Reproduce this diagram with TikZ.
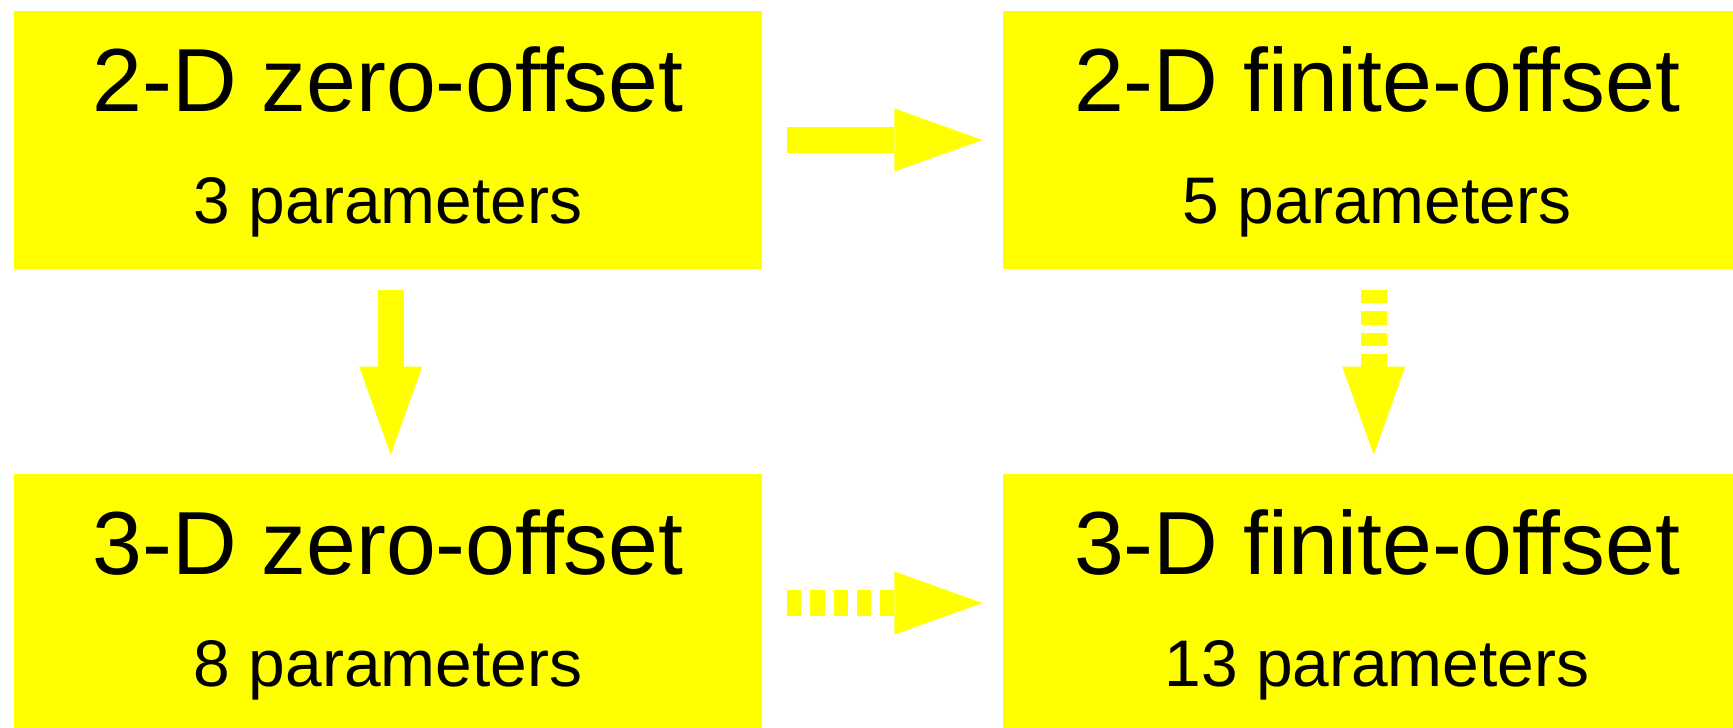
\documentclass[tikz,border=0pt]{standalone}
\usepackage{fontspec}
\setmainfont{Liberation Sans}
\usepackage{tikz}
\usetikzlibrary{arrows.meta,positioning}

\definecolor{boxyellow}{RGB}{255,255,0}

\tikzset{
    box/.style={fill=boxyellow, minimum width=14.96cm, minimum height=5.16cm, inner sep=0pt},
    title/.style={anchor=base, inner sep=0pt, font=\fontsize{51}{60}\selectfont},
    params/.style={anchor=base, inner sep=0pt, font=\fontsize{37.5}{45}\selectfont},
    flow/.style={draw=boxyellow, line width=0.52cm,
        -{Triangle[length=1.76cm, width=1.26cm, line width=0pt, fill=boxyellow]}},
    flowdash/.style={flow, dash pattern=on 0.287cm off 0.18cm},
    flowdashv/.style={flow, dash pattern=on 0.266cm off 0.16cm}
}

\begin{document}
\begin{tikzpicture}[x=0.02cm, y=-0.02cm]
        \useasboundingbox (0,0) rectangle (1733,727);
        % Boxes
        \node[box] (zo2) at (388,140) {};
        \node[box] (fo2) at (1377,140) {};
        \node[box] (zo3) at (388,603) {};
        \node[box] (fo3) at (1377,603) {};
        % Texts
        \node[title] (zo2 title) at ([yshift=0.58cm]zo2.center) {2-D zero-offset};
        \node[params] (zo2 params) at ([yshift=-1.68cm]zo2.center) {3 parameters};
        \node[title] (fo2 title) at ([yshift=0.58cm]fo2.center) {2-D finite-offset};
        \node[params] (fo2 params) at ([yshift=-1.68cm]fo2.center) {5 parameters};
        \node[title] (zo3 title) at ([yshift=0.58cm]zo3.center) {3-D zero-offset};
        \node[params] (zo3 params) at ([yshift=-1.68cm]zo3.center) {8 parameters};
        \node[title] (fo3 title) at ([yshift=0.58cm]fo3.center) {3-D finite-offset};
        \node[params] (fo3 params) at ([yshift=-1.68cm]fo3.center) {13 parameters};
        %% Arrows between the cases
        \draw[flow] ([xshift=0.494cm]zo2.east) -- ([xshift=-0.406cm]fo2.west);
        \draw[flowdash] ([xshift=0.494cm]zo3.east) -- ([xshift=-0.406cm]fo3.west);
        \draw[flow] ([xshift=0.054cm, yshift=-0.414cm]zo2.south) -- ([xshift=0.054cm, yshift=0.38cm]zo3.north);
        \draw[flowdashv] ([xshift=-0.066cm, yshift=-0.414cm]fo2.south) -- ([xshift=-0.066cm, yshift=0.38cm]fo3.north);
    \end{tikzpicture}
\end{document}
